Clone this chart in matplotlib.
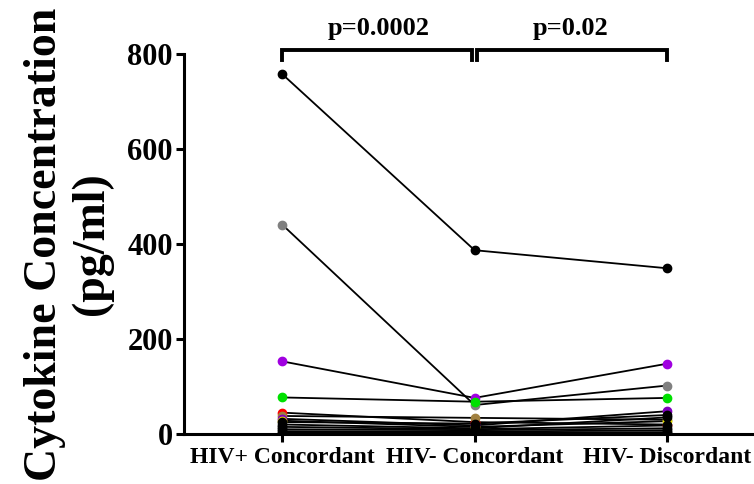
"""
Paired cytokine concentrations per subject across the three groups,
with bracketed p-values between adjacent groups.
"""

import matplotlib
matplotlib.use("Agg")
import matplotlib.pyplot as plt

# ── Data ─────────────────────────────────────────────────────────────────────
GROUPS = ["HIV+ Concordant", "HIV- Concordant", "HIV- Discordant"]

# one row per subject: (HIV+ Conc, HIV- Conc, HIV- Disc)
SUBJECT_VALUES = [
    [758, 387, 349],
    [441, 61, 102],
    [153, 76, 148],
    [77, 68, 76],
    [45, 25, 20],
    [38, 34, 30],
    [32, 18, 48],
    [28, 15, 27],
    [25, 22, 40],
    [20, 12, 35],
    [15, 10, 18],
    [10, 8, 12],
    [6, 5, 8],
    [3, 3, 4],
    [1, 1, 2],
]
SUBJECT_COLORS = [
    "black", "grey", "#a000e0", "#00e000", "red", "#a08040", "#8000c0",
    "#e8e000", "black", "black", "black", "black", "black", "black", "black",
]

P_VALUES = ["p=0.0002", "p=0.02"]
Y_TICKS = [0, 200, 400, 600, 800]

# ── Style ────────────────────────────────────────────────────────────────────
plt.rcParams.update({
    "font.family": "Liberation Serif",
    "font.weight": "bold",
})

fig = plt.figure(figsize=(7.54, 4.84), dpi=100)
ax = fig.add_axes([0.244, 0.1033, 0.753, 0.785])

x = list(range(len(GROUPS)))
for vals, col in zip(SUBJECT_VALUES, SUBJECT_COLORS):
    ax.plot(x, vals, color="black", lw=1.3, zorder=2)
    ax.plot(x, vals, ls="none", marker="o", ms=6, mfc=col, mec=col, zorder=3)

ax.set_xlim(-0.51, 2.44)
ax.set_ylim(0, 800)
ax.set_yticks(Y_TICKS)
ax.set_yticklabels([str(v) for v in Y_TICKS], fontsize=22, fontweight="bold")
ax.set_xticks(x)
ax.set_xticklabels(GROUPS, fontsize=17, fontweight="bold")

for side in ("top", "right"):
    ax.spines[side].set_visible(False)
for side in ("left", "bottom"):
    ax.spines[side].set_linewidth(2.2)
ax.tick_params(axis="both", direction="out", length=6, width=2.2)
ax.tick_params(axis="y", pad=2)
ax.tick_params(axis="x", pad=3)

ax.set_ylabel("Cytokine Concentration\n(pg/ml)", fontsize=33,
              fontweight="bold", linespacing=1.15)
ax.yaxis.set_label_coords(-0.125, 0.5)

# ── Significance brackets ────────────────────────────────────────────────────
y_top, y_leg = 808, 787
gap = 0.013
for (a, b), label in zip([(0, 1), (1, 2)], P_VALUES):
    xa = a + (gap if a > 0 else 0)
    xb = b - (gap if b < 2 else 0)
    ax.plot([xa, xa, xb, xb], [y_leg, y_top, y_top, y_leg],
            color="black", lw=2.8, clip_on=False, solid_joinstyle="miter")
    ax.text((a + b) / 2, 830, label, ha="center", va="bottom",
            fontsize=19, fontweight="bold")

fig.savefig("out.png", dpi=100)
